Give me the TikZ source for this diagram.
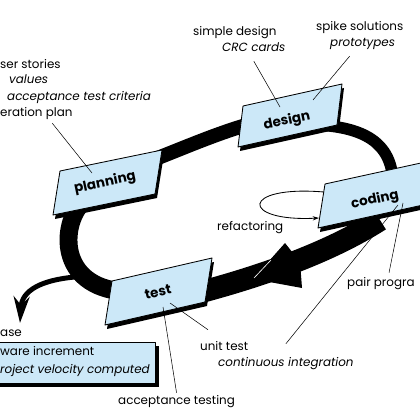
\documentclass[tikz,border=0pt]{standalone}
\usepackage{fontspec}
\setmainfont{Poppins}
\usetikzlibrary{arrows.meta,calc}
\definecolor{cardblue}{RGB}{204,232,248}
\tikzset{
	card/.style={fill=cardblue,draw=black,line width=0.8pt,line join=round},
	txt/.style={inner sep=0pt,anchor=west,text height=1.5ex,text depth=.25ex,font=\fontsize{11.3}{13}\selectfont},
	itxt/.style={txt,font=\fontsize{11.3}{13}\selectfont\itshape},
	cardtxt/.style={inner sep=0pt,rotate=12,font=\fontsize{12.8}{14}\selectfont\bfseries},
	leader/.style={line width=0.5pt},
}
\begin{document}
\begin{tikzpicture}[x=1cm/30,y=-1cm/30]
	\useasboundingbox (0,0) rectangle (420,420);
	% the loop
	\draw[line width=13.5pt] (120,172) .. controls (170,155) and (215,132) .. (265,120);
	\draw[line width=11pt] (320,125) .. controls (360,128) and (393,140) .. (393,185);
	\draw[line width=21pt] (380,220) .. controls (330,252) and (260,278) .. (170,300);
	\draw[line width=17pt] (130,292) .. controls (60,290) and (60,230) .. (80,205);
	\fill (253,279) -- (285,243) -- (300,262) -- (302,288) -- cycle;
	\draw[white,line width=0.6pt] (254,278) -- (271,260);
	\draw[line width=4.7pt,-{Stealth[length=25pt,width=15pt]}] (75,277) .. controls (42,280) and (22,290) .. (20,323);
	% refactoring loop
	\draw[line width=0.8pt,-{Stealth[length=6pt,width=4pt]}] (324,192) .. controls (240,185) and (240,222) .. (319,218);
	% cards
	\fill[shift={(2,4)}] (60,171) -- (162,150) -- (155,194) -- (53,215) -- cycle;
	\filldraw[card] (60,171) -- (162,150) -- (155,194) -- (53,215) -- cycle;
	\fill[shift={(2,4)}] (243,106) -- (342,84) -- (337,125) -- (238,147) -- cycle;
	\filldraw[card] (243,106) -- (342,84) -- (337,125) -- (238,147) -- cycle;
	\fill[shift={(2,4)}] (325,184) -- (430,161) -- (423,205) -- (318,228) -- cycle;
	\filldraw[card] (325,184) -- (430,161) -- (423,205) -- (318,228) -- cycle;
	\fill[shift={(2,4)}] (112,281) -- (212,258) -- (205,302) -- (105,325) -- cycle;
	\filldraw[card] (112,281) -- (212,258) -- (205,302) -- (105,325) -- cycle;
	\node[cardtxt] (planning) at (105,183) {planning};
	\node[cardtxt] (design) at (287,121) {design};
	\node[cardtxt] (coding) at (375,200) {coding};
	\node[cardtxt] (test) at (158,292) {test};
	% release box
	\fill (-1,346) rectangle (159,387);
	\filldraw[card] (-5,342) rectangle (155,383);
	% texts
	\node[txt] (stories) at (0,65) {ser stories};
	\node[itxt] (values) at (9,80) {values};
	\node[itxt] (criteria) at (7,97) {acceptance test criteria};
	\node[txt] (plan) at (0,113) {eration plan};
	\node[txt] (sdesign) at (193,32) {simple design};
	\node[itxt] (crc) at (222,48) {CRC cards};
	\node[txt] (spike) at (316,27) {spike solutions};
	\node[itxt] (proto) at (330,43) {prototypes};
	\node[txt] (refac) at (217,227) {refactoring};
	\node[txt] (pair) at (347,283) {pair progra};
	\node[txt] (unit) at (200,347) {unit test};
	\node[itxt] (ci) at (218,363) {continuous integration};
	\node[txt] (acctest) at (118,401) {acceptance testing};
	\node[txt] (rel) at (0,333) {ase};
	\node[txt] (incr) at (0,352) {ware increment};
	\node[itxt] (velo) at (0,370) {roject velocity computed};
	% leaders
	\coordinate (pl) at (92,173);
	\coordinate (de1) at (280,107);
	\coordinate (de2) at (313,100);
	\coordinate (co1) at (403,203);
	\coordinate (co2) at (398,205);
	\coordinate (te1) at (170,303);
	\coordinate (te2) at (163,307);
	\draw[leader] ($(plan.south west)!.72!(plan.south east)+(0,5)$) -- (pl);
	\draw[leader] ($(crc.south)+(0,8)$) -- (de1);
	\draw[leader] ($(proto.south west)!.3!(proto.south east)+(0,8)$) -- (de2);
	\draw[leader] ($(pair.north west)!.62!(pair.north east)+(0,-5)$) -- (co1);
	\draw[leader] ($(ci.north)+(0,-14)$) -- (co2);
	\draw[leader] ($(unit.north west)+(8,-12)$) -- (te1);
	\draw[leader] ($(acctest.north)+(0,-3)$) -- (te2);
\end{tikzpicture}
\end{document}
